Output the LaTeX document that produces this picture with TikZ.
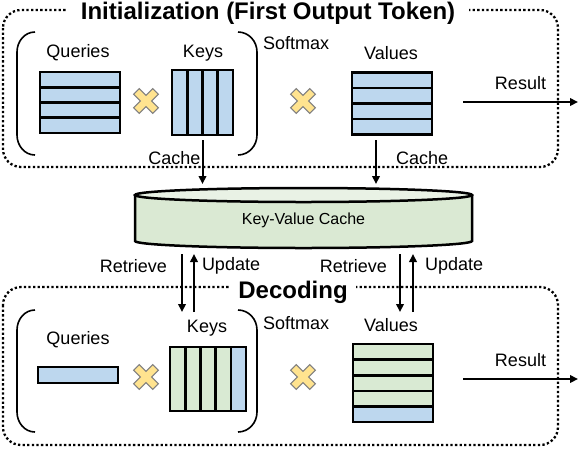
\documentclass[tikz,border=0pt]{standalone}
\usepackage{fontspec}
\setmainfont{Liberation Sans}
\usetikzlibrary{arrows.meta,calc}

\definecolor{qblue}{HTML}{BDD7EE}
\definecolor{kgreen}{HTML}{D9EAD3}
\definecolor{cgreen}{HTML}{DAE9D3}
\definecolor{xyellow}{HTML}{FFE38F}
\definecolor{xgray}{HTML}{7F7F7F}

\begin{document}
\begin{tikzpicture}[x=1pt, y=1pt,
    mat/.style = {draw, line width=2.6pt, fill=qblue, inner sep=0pt},
    lbl/.style = {font=\fontsize{18}{21}\selectfont, inner sep=1pt},
    arr/.style = {-{Triangle[length=8pt,width=7.5pt]}, line width=2pt},
    phase/.style = {line width=2.3pt, dash pattern=on 2.3pt off 2.3pt, rounded corners=18pt},
    phasetitle/.style = {fill=white, anchor=base, inner ysep=2pt, font=\fontsize{24}{28}\selectfont\bfseries},
    paren/.style = {line width=1.6pt},
    rows/.style = {path picture={\foreach \i in {1,...,#1}
        \draw[line width=2.6pt] ($(path picture bounding box.north west)!\i/#1!(path picture bounding box.south west)$) -- ($(path picture bounding box.north east)!\i/#1!(path picture bounding box.south east)$);}},
    cols/.style = {path picture={\foreach \i in {1,...,#1}
        \draw[line width=2.6pt] ($(path picture bounding box.north west)!\i/#1!(path picture bounding box.north east)$) -- ($(path picture bounding box.south west)!\i/#1!(path picture bounding box.south east)$);}},
    rowsnew/.style = {fill=kgreen, path picture={
        \fill[qblue] ($(path picture bounding box.south west)!1/#1!(path picture bounding box.north west)$) rectangle (path picture bounding box.south east);
        \foreach \i in {1,...,#1}
        \draw[line width=2.6pt] ($(path picture bounding box.north west)!\i/#1!(path picture bounding box.south west)$) -- ($(path picture bounding box.north east)!\i/#1!(path picture bounding box.south east)$);}},
    colsnew/.style = {fill=kgreen, path picture={
        \fill[qblue] ($(path picture bounding box.north east)!1/#1!(path picture bounding box.north west)$) rectangle (path picture bounding box.south east);
        \foreach \i in {1,...,#1}
        \draw[line width=2.6pt] ($(path picture bounding box.north west)!\i/#1!(path picture bounding box.north east)$) -- ($(path picture bounding box.south west)!\i/#1!(path picture bounding box.south east)$);}},
    mul/.pic = {\draw[xgray, fill=xyellow, line width=1pt, rotate=45]
        (-4,-13.5) -- (4,-13.5) -- (4,-4) -- (13.5,-4) -- (13.5,4) -- (4,4) -- (4,13.5)
        -- (-4,13.5) -- (-4,4) -- (-13.5,4) -- (-13.5,-4) -- (-4,-4) -- cycle;}]

    \useasboundingbox (0,0) rectangle (580,-448);

    % initialization phase
    \draw[phase] (3,-10) rectangle (558,-167);
    \node[phasetitle, inner xsep=14pt] (init) at (268,-19) {Initialization (First Output Token)};

    \node[mat, rows=4, minimum width=80pt, minimum height=61pt] (q1) at (80,-102.5) {};
    \node[lbl] (ql1) at (78,-53) {Queries};
    \pic at (146,-101) {mul};
    \node[mat, cols=4, minimum width=61pt, minimum height=65pt] (k1) at (202.5,-102.5) {};
    \node[lbl] (kl1) at (203,-53) {Keys};
    \draw[paren] (35,-32) to[out=180,in=90] (17,-52) -- (17,-135) to[out=-90,in=180] (35,-155);
    \draw[paren] (238,-32) to[out=0,in=90] (257,-52) -- (257,-135) to[out=-90,in=0] (238,-155);
    \node[lbl, anchor=west] (sm1) at (262,-43) {Softmax};
    \pic at (303,-101) {mul};
    \node[mat, rows=4, minimum width=80pt, minimum height=62pt] (v1) at (392,-103.5) {};
    \node[lbl] (vl1) at (391,-53) {Values};

    \coordinate (res1) at (578,-102);
    \draw[arr] ([xshift=-115pt]res1) -- (res1) node[midway, above=10pt, lbl] (rs1) {Result};

    % key-value cache
    \coordinate (cyltop) at (303.5,-184);
    \coordinate (cylbot) at (303.5,-254);
    \fill[cgreen] (135,-195) -- (135,-241) arc[start angle=180, end angle=360, x radius=168.5pt, y radius=7pt] -- (472,-195) -- cycle;
    \filldraw[fill=cgreen!60!white, line width=2.5pt] (303.5,-195) ellipse[x radius=168.5pt, y radius=7pt];
    \draw[line width=2.5pt] (135,-195) -- (135,-241) arc[start angle=180, end angle=360, x radius=168.5pt, y radius=7pt] -- (472,-195);
    \node[font=\fontsize{16}{19}\selectfont] (kvc) at (303.5,-220) {Key-Value Cache};

    \coordinate (c2) at (376,-140);
    \draw[arr] ([yshift=-4pt]k1.south) -- (k1.south |- cyltop) node[midway, left, lbl, yshift=4pt] (cl1) {Cache};
    \draw[arr] (c2) -- (c2 |- cyltop) node[midway, right=18pt, lbl, yshift=4pt] (cl2) {Cache};

    \coordinate (ret1) at (182,-312);
    \coordinate (upd1) at (194,-312);
    \coordinate (ret2) at (400,-312);
    \coordinate (upd2) at (413,-312);
    \draw[arr] (ret1 |- cylbot) -- (ret1) node[pos=0.2, left=13pt, lbl] (rl1) {Retrieve};
    \draw[arr] (upd1) -- (upd1 |- cylbot) node[pos=0.8, right=6pt, lbl] (ul1) {Update};
    \draw[arr] (ret2 |- cylbot) -- (ret2) node[pos=0.2, left=11pt, lbl] (rl2) {Retrieve};
    \draw[arr] (upd2) -- (upd2 |- cylbot) node[pos=0.8, right=10pt, lbl] (ul2) {Update};

    % decoding phase
    \draw[phase] (3,-287) rectangle (558,-445);
    \node[phasetitle, inner xsep=8pt] (dec) at (293,-298) {Decoding};

    \node[mat, minimum width=80pt, minimum height=16pt] (q2) at (78,-375) {};
    \node[lbl] (ql2) at (78,-340) {Queries};
    \pic at (146,-377) {mul};
    \node[mat, colsnew=5, minimum width=76pt, minimum height=64pt] (k2) at (208,-379) {};
    \node[lbl] (kl2) at (207,-328) {Keys};
    \draw[paren] (35,-310) to[out=180,in=90] (17,-330) -- (17,-412) to[out=-90,in=180] (35,-432);
    \draw[paren] (238,-310) to[out=0,in=90] (257,-330) -- (257,-412) to[out=-90,in=0] (238,-432);
    \node[lbl, anchor=west] (sm2) at (262,-323) {Softmax};
    \pic at (303,-377) {mul};
    \node[mat, rowsnew=5, minimum width=80pt, minimum height=78pt] (v2) at (393,-383) {};
    \node[lbl] (vl2) at (391,-325) {Values};

    \coordinate (res2) at (578,-379);
    \draw[arr] ([xshift=-115pt]res2) -- (res2) node[midway, above=10pt, lbl] (rs2) {Result};

\end{tikzpicture}
\end{document}
